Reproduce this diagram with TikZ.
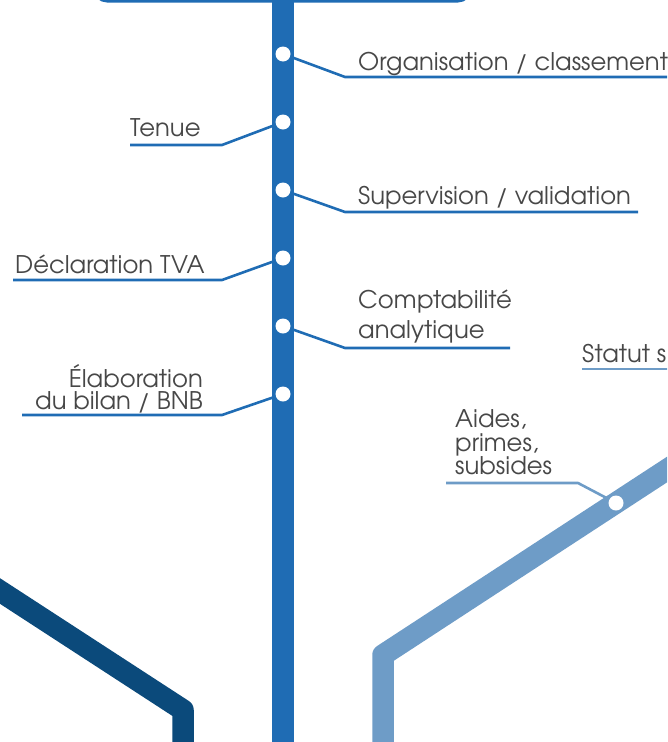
\documentclass[tikz,border=0pt]{standalone}
\usepackage{fontspec}
\setmainfont{TeX Gyre Adventor}
\definecolor{mainblue}{HTML}{1F6CB4}
\definecolor{darkblue}{HTML}{0B4A7B}
\definecolor{lightblue}{HTML}{6E9CC7}
\definecolor{txt}{HTML}{474747}
\begin{document}
\begin{tikzpicture}[x=1pt,y=-1pt,
  track/.style={line width=21.5pt, line join=round},
  conn/.style={line width=2.6pt, line join=round},
  stopdot/.style={circle, fill=white, inner sep=0pt, minimum size=15pt},
  lbl/.style={font=\fontsize{24.3}{28}\selectfont, text=txt, inner sep=0pt}]
\useasboundingbox (0,0) rectangle (667,742);
\clip (0,0) rectangle (667,742);
% top frame
\draw[mainblue, line width=4pt, rounded corners=12pt] (95,-60) rectangle (470,0.5);
% tracks
\coordinate (dk0) at (-20,578);
\coordinate (dkc) at (183,710);
\coordinate (dkb) at (183,760);
\coordinate (lb0) at (700,448);
\coordinate (lbc) at (383,655);
\coordinate (lbb) at (383,760);
\coordinate (mt) at (283,-10);
\coordinate (mb) at (283,760);
\draw[track, darkblue] (dk0) -- (dkc) -- (dkb);
\draw[track, lightblue] (lb0) -- (lbc) -- (lbb);
\draw[track, mainblue] (mt) -- (mb);
% stops
\node[stopdot] (s1) at (283,54) {};
\node[stopdot] (s2) at (283,122) {};
\node[stopdot] (s3) at (283,190) {};
\node[stopdot] (s4) at (283,258) {};
\node[stopdot] (s5) at (283,326) {};
\node[stopdot] (s6) at (283,394) {};
\node[stopdot] (s7) at (616,503) {};
% connector bends and ends
\coordinate (b1) at (345,77);   \coordinate (e1) at (690,77);
\coordinate (b2) at (222,145);  \coordinate (e2) at (130,145);
\coordinate (b3) at (345,212);  \coordinate (e3) at (638,212);
\coordinate (b4) at (222,280);  \coordinate (e4) at (13,280);
\coordinate (b5) at (345,348);  \coordinate (e5) at (510,348);
\coordinate (b6) at (222,415);  \coordinate (e6) at (22,415);
\coordinate (b7) at (578,483);  \coordinate (e7) at (446,483);
\coordinate (st0) at (582,369); \coordinate (st1) at (690,369);
\draw[conn, mainblue] (s1) -- (b1) -- (e1);
\draw[conn, mainblue] (s2) -- (b2) -- (e2);
\draw[conn, mainblue] (s3) -- (b3) -- (e3);
\draw[conn, mainblue] (s4) -- (b4) -- (e4);
\draw[conn, mainblue] (s5) -- (b5) -- (e5);
\draw[conn, mainblue] (s6) -- (b6) -- (e6);
\draw[conn, lightblue] (s7) -- (b7) -- (e7);
\draw[conn, lightblue] (st0) -- (st1);
% labels
\node[lbl, anchor=base west] (t1) at (358,70) {Organisation / classement};
\node[lbl, anchor=base west] (t2) at (130,136) {Tenue};
\node[lbl, anchor=base west] (t3) at (358,204) {Supervision / validation};
\node[lbl, anchor=base west] (t4) at (15,273) {Déclaration TVA};
\node[lbl, anchor=base west] (t5a) at (358,308) {Comptabilité};
\node[lbl, anchor=base west] (t5b) at (358,338) {analytique};
\node[lbl, anchor=base east] (t6a) at (203,387) {Élaboration};
\node[lbl, anchor=base east] (t6b) at (203,409) {du bilan / BNB};
\node[lbl, anchor=base west] (t7a) at (455,427) {Aides,};
\node[lbl, anchor=base west] (t7b) at (455,451) {primes,};
\node[lbl, anchor=base west] (t7c) at (455,474) {subsides};
\node[lbl, anchor=base west] (t8) at (582,362) {Statut s};
\end{tikzpicture}
\end{document}
